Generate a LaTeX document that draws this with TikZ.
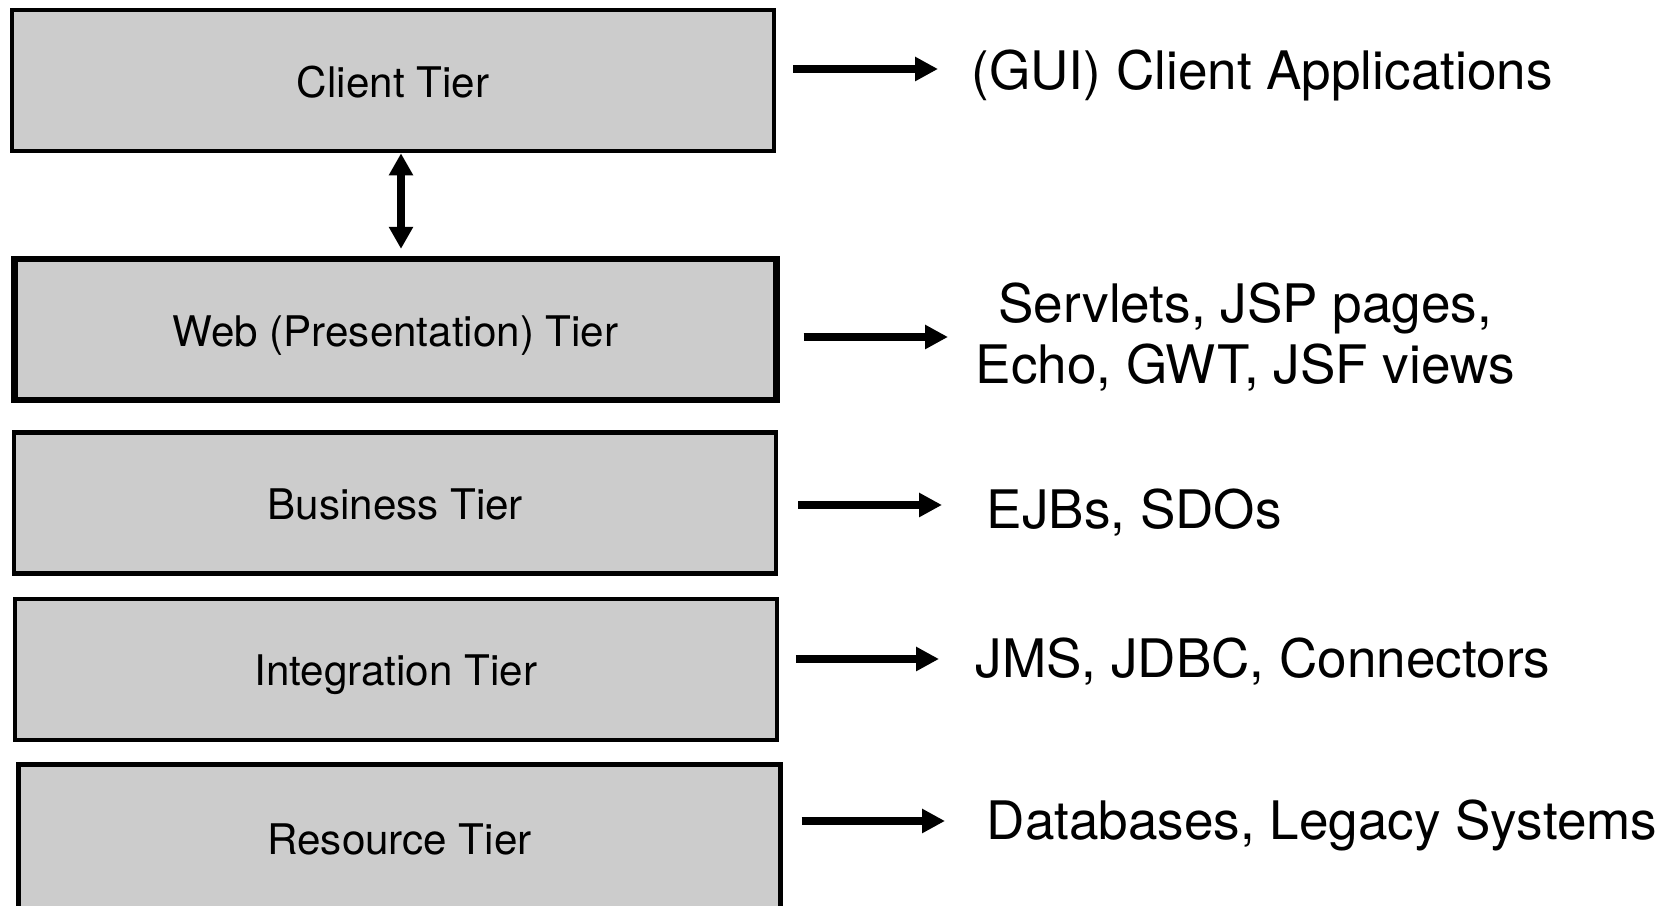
\documentclass[tikz,border=0pt]{standalone}
\usepackage{fontspec}
\setmainfont{TeX Gyre Heros}
\usepackage{tikz}
\usetikzlibrary{arrows.meta}
\definecolor{tiergray}{RGB}{204,204,204}
\tikzset{
	tiernode/.style={rectangle, draw=black, fill=tiergray, line width=0.43mm, minimum width=76.2mm, minimum height=14.1mm, text height=0.94em, text depth=0pt, font=\fontsize{12}{14}\selectfont},
	webnode/.style={tiernode, line width=0.63mm},
	usenode/.style={anchor=base west, inner sep=0pt, align=center, font=\fontsize{15.1}{17.5}\selectfont}
}
\tikzset{
	tierarrow/.style={-{Triangle[length=2.3mm, width=2.3mm]}, line width=0.77mm},
	dblarrow/.style={{Triangle[length=2.2mm, width=2.3mm]}-{Triangle[length=2.2mm, width=2.3mm]}, line width=0.77mm}
}

\begin{document}
\begin{tikzpicture}[x=0.1mm, y=-0.1mm]
	\useasboundingbox (0,0) rectangle (1666,906);

	\node[tiernode] at (393,80.7) (client) {Client Tier};
	\node[webnode] at (395.5,329.5) (web) {Web (Presentation) Tier};
	\node[tiernode] at (395.3,503.1) (business) {Business Tier};
	\node[tiernode] at (395.8,669.4) (integration) {Integration Tier};
	\node[tiernode, minimum height=14.6mm] at (399.5,837.5) (resource) {Resource Tier};

	\node[usenode] at (971,90) (guiapps) {(GUI) Client Applications};
	\node[usenode, anchor=west] at (975,337) (webtech) {Servlets, JSP pages,\\Echo, GWT, JSF views};
	\node[usenode] at (986,529) (ejbs) {EJBs, SDOs};
	\node[usenode] at (975,678) (connectors) {JMS, JDBC, Connectors};
	\node[usenode] at (986,840) (databases) {Databases, Legacy Systems};

	% arrow ends next to the texts
	\coordinate[yshift=2.1mm] (guitip) at (guiapps.base west);
	\coordinate (webtip) at (webtech.west);
	\coordinate[yshift=2.4mm] (ejbtip) at (ejbs.base west);
	\coordinate[yshift=1.9mm] (jmstip) at (connectors.base west);
	\coordinate[yshift=1.9mm] (dbtip) at (databases.base west);

	\draw[dblarrow, shorten >=0.7mm] ([xshift=0.8mm]client.south) -- ([xshift=0.8mm]client.south |- web.north);

	\draw[tierarrow, shorten <=1.7mm, shorten >=3.3mm] (client.east |- guitip) -- (guitip);
	\draw[tierarrow, shorten <=2.4mm, shorten >=2.7mm] (web.east |- webtip) -- (webtip);
	\draw[tierarrow, shorten <=2mm, shorten >=4.4mm] (business.east |- ejbtip) -- (ejbtip);
	\draw[tierarrow, shorten <=1.7mm, shorten >=3.6mm] (integration.east |- jmstip) -- (jmstip);
	\draw[tierarrow, shorten <=1.9mm, shorten >=4.1mm] (resource.east |- dbtip) -- (dbtip);
\end{tikzpicture}
\end{document}
